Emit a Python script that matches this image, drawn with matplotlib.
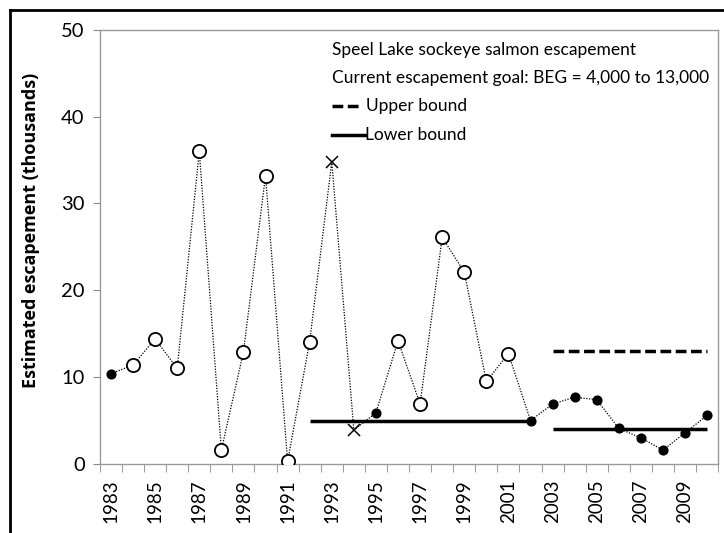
import numpy as np
import matplotlib
matplotlib.use('Agg')
import matplotlib.pyplot as plt
from matplotlib.lines import Line2D

years = list(range(1983, 2011))
escapement = [10.4, 11.4, 14.4, 11.0, 36.0, 1.6, 12.9, 33.2, 0.3, 14.1,
              34.8, 3.9, 5.9, 14.2, 6.9, 26.1, 22.1, 9.5, 12.7, 5.0,
              6.9, 7.7, 7.4, 4.1, 3.0, 1.6, 3.6, 5.6]
# marker type per year: 'f' filled, 'o' open, 'x' cross
kind = ['f', 'o', 'o', 'o', 'o', 'o', 'o', 'o', 'o', 'o',
        'x', 'x', 'f', 'o', 'o', 'o', 'o', 'o', 'o', 'f',
        'f', 'f', 'f', 'f', 'f', 'f', 'f', 'f']
lower_bound = [np.nan] * 9 + [5.0] * 11 + [4.0] * 8
upper_bound = [np.nan] * 20 + [13.0] * 8
year_labels = [str(y) if (y - 1983) % 2 == 0 else '' for y in years]

plt.rcParams['font.family'] = ['Lato', 'DejaVu Sans']

fig = plt.figure(figsize=(7.24, 5.33), dpi=100)
ax = fig.add_axes([0.138, 0.1295, 0.854, 0.8145])

x = np.arange(len(years))
esc = np.array(escapement)

ax.plot(x, esc, color='black', lw=0.9, ls=(0, (1, 1.2)), zorder=2)

# lower bound: two separate segments
lb = np.array(lower_bound)
ax.plot(x[:20], lb[:20], color='black', lw=2.5, solid_capstyle='butt', zorder=1)
ax.plot(x[20:], lb[20:], color='black', lw=2.5, solid_capstyle='butt', zorder=1)
ax.plot(x, upper_bound, color='black', lw=2.5, ls=(0, (3.1, 1.3)), zorder=1)

for k, style in [('f', dict(marker='o', ms=6.3, mfc='black', mec='black')),
                 ('o', dict(marker='o', ms=9.5, mfc='white', mec='black', mew=1.3)),
                 ('x', dict(marker='x', ms=8.5, mec='black', mew=1.1))]:
    idx = [i for i, kk in enumerate(kind) if kk == k]
    ax.plot(x[idx], esc[idx], ls='none', zorder=3, **style)

ax.set_xlim(-0.5, len(years) - 0.5)
ax.set_ylim(0, 50)
ax.set_yticks(range(0, 51, 10))
ax.set_yticklabels([str(v) for v in range(0, 51, 10)], fontsize=14.5)

ax.set_xticks(x)
ax.set_xticklabels(year_labels, rotation=90, fontsize=13.5)
ax.tick_params(axis='x', length=0, pad=11)
ax.set_xticks(np.arange(-0.5, len(years)), minor=True)
ax.tick_params(axis='x', which='minor', length=6, direction='out', color='#888888')
ax.tick_params(axis='y', length=5, direction='out', color='#888888', pad=6)

for s in ax.spines.values():
    s.set_color('#999999')
    s.set_linewidth(1.0)

ax.set_ylabel('Estimated escapement (thousands)', fontsize=13, fontweight='bold',
              family=['Open Sans', 'DejaVu Sans'])
ax.yaxis.set_label_coords(-0.097, 0.539)

# annotation block in upper right
fs = 12.5
ax.text(0.375, 0.954, 'Speel Lake sockeye salmon escapement', transform=ax.transAxes,
        fontsize=fs, va='center', ha='left')
ax.text(0.375, 0.890, 'Current escapement goal: BEG = 4,000 to 13,000', transform=ax.transAxes,
        fontsize=fs, va='center', ha='left')
ax.add_line(Line2D([0.375, 0.424], [0.825, 0.825], transform=ax.transAxes, color='black',
                   lw=2.5, ls=(0, (3.1, 1.3))))
ax.text(0.430, 0.825, 'Upper bound', transform=ax.transAxes, fontsize=fs, va='center', ha='left')
ax.add_line(Line2D([0.375, 0.428], [0.758, 0.758], transform=ax.transAxes, color='black', lw=2.5))
ax.text(0.428, 0.758, 'Lower bound', transform=ax.transAxes, fontsize=fs, va='center', ha='left')

# black frame on left and top of figure
fig.add_artist(Line2D([0.0145, 0.0145], [0.0, 0.981], transform=fig.transFigure, color='black', lw=2))
fig.add_artist(Line2D([0.0145, 1.0], [0.981, 0.981], transform=fig.transFigure, color='black', lw=2))

fig.savefig('out.png', dpi=100)
